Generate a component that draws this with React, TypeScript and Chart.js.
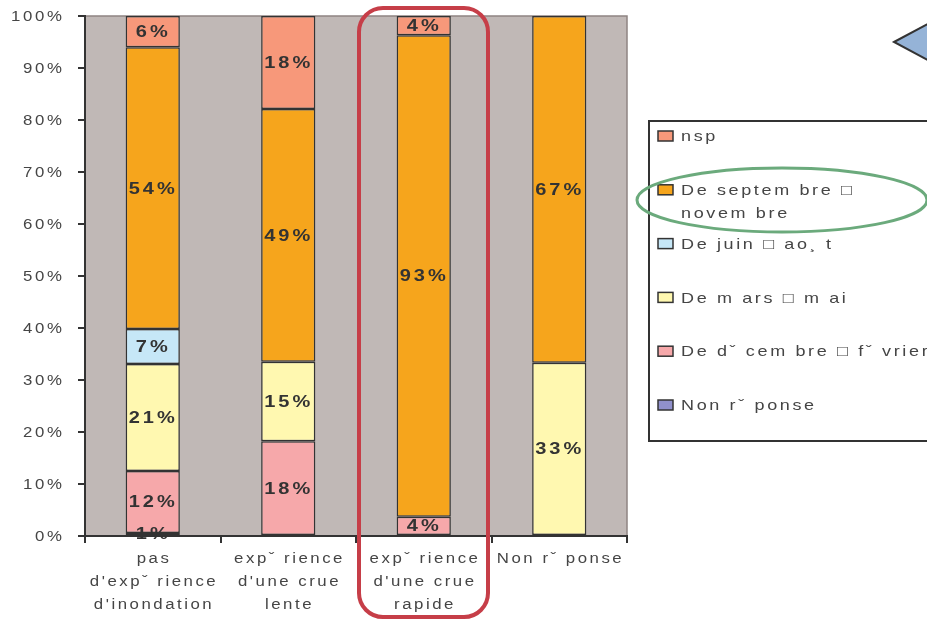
import React, { useEffect, useRef } from 'react';
import { Chart, registerables } from 'chart.js';

Chart.register(...registerables);

// ---------- data ----------
const categories: string[][] = [
  ['pas', "d'expˇ rience", "d'inondation"],
  ['expˇ rience', "d'une crue", 'lente'],
  ['expˇ rience', "d'une crue", 'rapide'],
  ['Non rˇ ponse'],
];

// stacked bottom -> top
const noAnswerValues = [0.6, null, null, null];
const decFebValues = [11.9, 18.2, 3.7, null];
const marMayValues = [20.6, 15.3, null, 33.3];
const junAugValues = [6.7, null, null, null];
const sepNovValues = [54.2, 48.6, 92.6, 66.7];
const nspValues = [6.0, 17.9, 3.7, null];

const seriesLegendLines: string[][] = [
  ['Non rˇ ponse'],
  ['De dˇ cem bre □ fˇ vrier'],
  ['De m ars □ m ai'],
  ['De juin □ ao¸ t'],
  ['De septem bre □', 'novem bre'],
  ['nsp'],
];
const seriesColors = ['#9090CC', '#F6A8AA', '#FFF8B0', '#C6E7F7', '#F6A51C', '#F7987A'];

const yMin = 0;
const yMax = 100;
const yStep = 10;

// ---------- helpers ----------
const FONT = '"Liberation Sans", Arial, sans-serif';
const TEXT = '#454545';

function drawText(
  ctx: CanvasRenderingContext2D,
  text: string,
  x: number,
  y: number,
  align: 'left' | 'center' | 'right',
  font: string,
  sx: number,
  spacing: number,
  color: string
) {
  ctx.save();
  ctx.font = font;
  (ctx as any).letterSpacing = spacing + 'px';
  ctx.fillStyle = color;
  ctx.textBaseline = 'middle';
  ctx.textAlign = 'left';
  const w = (ctx.measureText(text).width - spacing) * sx;
  const left = align === 'left' ? x : align === 'right' ? x - w : x - w / 2;
  ctx.translate(left, y);
  ctx.scale(sx, 1);
  ctx.fillText(text, 0, 0);
  ctx.restore();
}

const decorPlugin = {
  id: 'decor',
  beforeDraw(chart: any) {
    const { ctx, chartArea: a } = chart;
    ctx.save();
    ctx.fillStyle = '#C0B8B6';
    ctx.fillRect(a.left, a.top, a.right - a.left, a.bottom - a.top);
    ctx.strokeStyle = '#8E8482';
    ctx.lineWidth = 1.5;
    ctx.beginPath();
    ctx.moveTo(a.left, a.top);
    ctx.lineTo(a.right, a.top);
    ctx.lineTo(a.right, a.bottom);
    ctx.stroke();
    ctx.restore();
  },
  afterDatasetsDraw(chart: any) {
    const { ctx } = chart;
    chart.data.datasets.forEach((ds: any, i: number) => {
      const meta = chart.getDatasetMeta(i);
      meta.data.forEach((el: any, j: number) => {
        const v = ds.data[j];
        if (v === null || v === undefined) return;
        const cy = (el.y + el.base) / 2;
        drawText(ctx, Math.round(v) + '%', el.x - 1, cy + 1, 'center', 'bold 16px ' + FONT, 1.25, 2.4, '#333333');
      });
    });
  },
  afterDraw(chart: any) {
    const { ctx } = chart;
    const ys = chart.scales.y;
    const xs = chart.scales.x;
    // y tick labels
    ys.ticks.forEach((t: any, i: number) => {
      const py = ys.getPixelForTick(i);
      drawText(ctx, t.value + '%', 62, py + 1, 'right', '14px ' + FONT, 1.2, 2.2, TEXT);
    });
    // x tick labels
    categories.forEach((lines, i) => {
      const px = xs.getPixelForTick(i);
      lines.forEach((ln, k) => {
        drawText(ctx, ln, px, 559 + k * 23, 'center', '14px ' + FONT, 1.2, 2.1, TEXT);
      });
    });
    // legend box
    ctx.save();
    ctx.fillStyle = '#FFFFFF';
    ctx.fillRect(649, 121, 300, 320);
    ctx.strokeStyle = '#333333';
    ctx.lineWidth = 2;
    ctx.strokeRect(649, 121, 300, 320);
    ctx.restore();
    const n = chart.data.datasets.length;
    for (let r = 0; r < n; r++) {
      const di = n - 1 - r;
      const cy = 136 + r * 53.8;
      ctx.save();
      ctx.fillStyle = seriesColors[di];
      ctx.fillRect(658, cy - 5, 15, 10);
      ctx.strokeStyle = '#333333';
      ctx.lineWidth = 1.5;
      ctx.strokeRect(658, cy - 5, 15, 10);
      ctx.restore();
      seriesLegendLines[di].forEach((ln, k) => {
        drawText(ctx, ln, 681, cy + 1 + k * 23, 'left', '15px ' + FONT, 1.2, 2.2, TEXT);
      });
    }
    // red rounded rectangle annotation
    ctx.save();
    ctx.strokeStyle = '#C63E48';
    ctx.lineWidth = 4;
    ctx.beginPath();
    (ctx as any).roundRect(359, 8, 129, 609, 24);
    ctx.stroke();
    // green ellipse
    ctx.strokeStyle = '#6BAA7C';
    ctx.lineWidth = 3;
    ctx.beginPath();
    ctx.ellipse(782, 200, 145, 32, 0, 0, Math.PI * 2);
    ctx.stroke();
    // blue triangle
    ctx.fillStyle = '#95B3D7';
    ctx.strokeStyle = '#333333';
    ctx.lineWidth = 2;
    ctx.beginPath();
    ctx.moveTo(894, 42);
    ctx.lineTo(935, 20);
    ctx.lineTo(935, 64);
    ctx.closePath();
    ctx.fill();
    ctx.stroke();
    ctx.restore();
  },
};

export default function App() {
  const ref = useRef<HTMLCanvasElement | null>(null);
  useEffect(() => {
    if (!ref.current) return;
    const mk = (data: (number | null)[], i: number) => ({
      label: seriesLegendLines[i].join(' '),
      data,
      backgroundColor: seriesColors[i],
      borderColor: '#333333',
      borderWidth: 1.5,
      borderSkipped: false,
      barPercentage: 0.4,
      categoryPercentage: 1,
    });
    const chart = new Chart(ref.current, {
      type: 'bar',
      data: {
        labels: categories.map((c) => c.join(' ')),
        datasets: [
          mk(noAnswerValues, 0),
          mk(decFebValues, 1),
          mk(marMayValues, 2),
          mk(junAugValues, 3),
          mk(sepNovValues, 4),
          mk(nspValues, 5),
        ] as any,
      },
      options: {
        responsive: false,
        animation: false,
        layout: { padding: { left: 0, top: 16, right: 300, bottom: 0 } },
        plugins: { legend: { display: false }, tooltip: { enabled: false } },
        scales: {
          x: {
            stacked: true,
            offset: true,
            grid: { display: true, drawOnChartArea: false, drawTicks: true, tickLength: 7, color: '#333333', lineWidth: 2, offset: true },
            border: { display: true, color: '#333333', width: 2 },
            ticks: { display: false },
            afterFit: (s: any) => { s.height = 84; },
          },
          y: {
            stacked: true,
            min: yMin,
            max: yMax,
            ticks: { display: false, stepSize: yStep },
            grid: { display: true, drawOnChartArea: false, drawTicks: true, tickLength: 7, color: '#333333', lineWidth: 2 },
            border: { display: true, color: '#333333', width: 2 },
            afterFit: (s: any) => { s.width = 85; },
          },
        },
      } as any,
      plugins: [decorPlugin],
    });
    return () => chart.destroy();
  }, []);
  return (
    <div style={{ position: 'absolute', left: 0, top: 0, width: 927, height: 620, overflow: 'hidden' }}>
      <canvas ref={ref} width={927} height={620} style={{ display: 'block' }} />
    </div>
  );
}
